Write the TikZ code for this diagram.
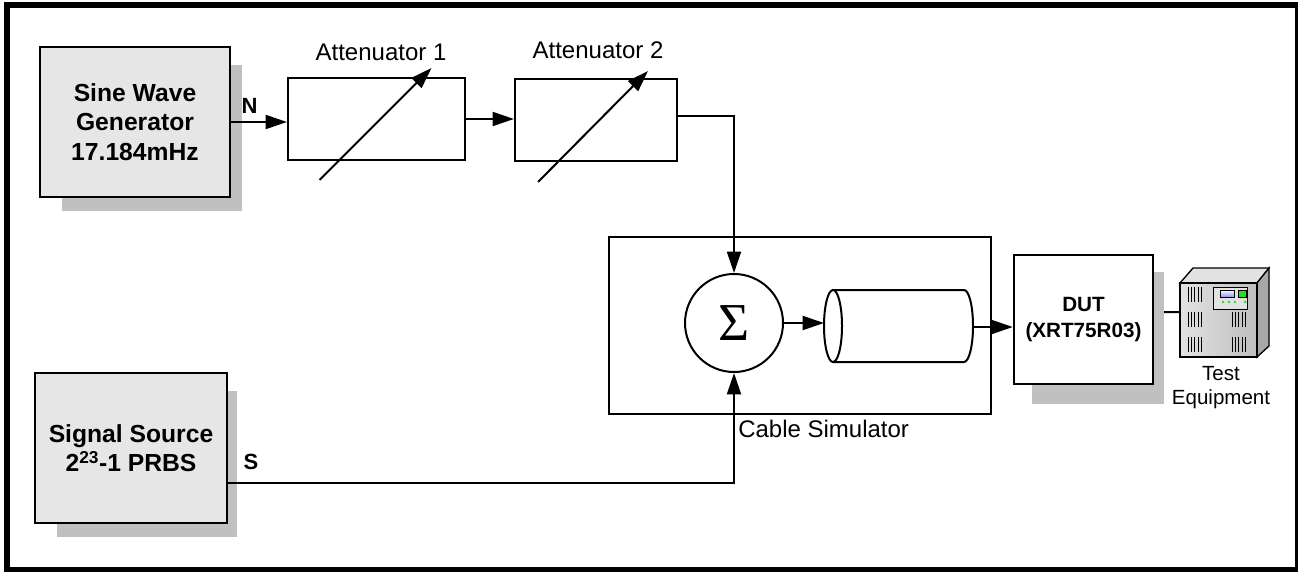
\documentclass[tikz,border=0pt]{standalone}
\usepackage{fontspec}
\setmainfont{Liberation Sans}
\newfontfamily\sigmafont{Liberation Serif}
\usepackage{tikz}
\usetikzlibrary{calc,arrows.meta,backgrounds}
\definecolor{boxgray}{HTML}{E6E6E6}
\definecolor{shadowgray}{HTML}{C0C0C0}
\definecolor{facegray}{HTML}{BEBEBE}
\definecolor{sidegray}{HTML}{A8A8A8}
\definecolor{topgray}{HTML}{E2E2E2}
\definecolor{lcdblue}{HTML}{9090F0}
\definecolor{ledgreen}{HTML}{20E020}
\tikzset{>={Triangle[length=16pt,width=10.5pt]}}
\tikzset{
    wire/.style={line width=1.5pt},
    srcbox/.style={draw, line width=1.8pt, fill=boxgray, align=center,
        font=\fontsize{18.5}{22}\selectfont\bfseries},
    attbox/.style={draw, line width=1.6pt, fill=white,
        minimum width=125pt, minimum height=61.5pt},
    attlabel/.style={font=\fontsize{18}{21.6}\selectfont},
    portlabel/.style={font=\fontsize{16.5}{18}\selectfont\bfseries, inner sep=0pt}
}

\begin{document}
\begin{tikzpicture}[x=0.75pt, y=-0.75pt]
    \useasboundingbox (0,0) rectangle (1298,571);
    % Outer frame
    \draw[line width=4.5pt] (7,4.5) rectangle (1298,570);

    % Sources
    \node[srcbox, minimum width=142.5pt, minimum height=112.5pt] (gen) at (135,122)
        {Sine Wave\\Generator\\17.184mHz};
    \node[srcbox, minimum width=144pt, minimum height=112.5pt] (src) at (131,448)
        {Signal Source\\2\textsuperscript{23}-1 PRBS};

    % Attenuators with variable arrows
    \node[attbox, minimum width=132.75pt] (att1) at (376.5,119) {};
    \node[attbox, minimum width=121.5pt] (att2) at (596,120) {};
    \node[attlabel] at (381,52) {Attenuator 1};
    \node[attlabel] at (598,50) {Attenuator 2};
    \draw[wire, ->] ($(att1.center)+(-57,61)$) -- ($(att1.center)+(55,-51)$);
    \draw[wire, ->] ($(att2.center)+(-58,62)$) -- ($(att2.center)+(52,-49)$);

    % Cable simulator
    \node[draw, line width=0.8pt, minimum width=286.5pt, minimum height=132.75pt] (sim) at (800,325.5) {};
    \node[attlabel, anchor=west, inner sep=0pt] at (738,428.5) {Cable Simulator};
    \node[draw, circle, line width=1.5pt, minimum size=73.5pt, inner sep=0pt,
        font=\sigmafont\fontsize{40}{40}\selectfont] (sum) at (734,323) {Σ};
    % Cable drawn as a cylinder
    \coordinate (cablein) at (824,326);
    \coordinate (cableout) at (973,327);
    \draw[wire] (833,290) -- (964,290)
        arc[start angle=90, end angle=-90, x radius=6.75pt, y radius=27pt] -- (833,362);
    \draw[wire, fill=white] (833,326) ellipse [x radius=6.75pt, y radius=27pt];

    % Device under test
    \node[draw, line width=1.8pt, fill=white, align=center, minimum width=104.25pt,
        minimum height=96.75pt, font=\fontsize{15.5}{20}\selectfont\bfseries] (dut) at (1083.5,319.5)
        {DUT\\(XRT75R03)};

    % Signal path
    \draw[wire, ->] (gen.east) -- (gen.east -| att1.west);
    \draw[wire, ->] (att1.east) -- (att1.east -| att2.west);
    \draw[wire, ->] ([yshift=3pt]att2.east) -| (sum.north);
    \draw[wire, ->] ([yshift=-26pt]src.east) -| (sum.south);
    \draw[wire, ->] (sum.east) -- (sum.east -| cablein);
    \draw[wire, ->] (cableout) -- (cableout -| dut.west);
    \node[portlabel] at (249.5,105.5) {N};
    \node[portlabel] at (251,461.5) {S};

    % Test equipment
    \coordinate (equip) at (1180,312);
    \draw[line width=1pt, fill=topgray] (1180,283) -- (1193,268) -- (1269,268) -- (1257,283) -- cycle;
    \draw[line width=1pt, fill=sidegray] (1257,283) -- (1269,268) -- (1269,346) -- (1257,357) -- cycle;
    \draw[line width=1pt, left color=topgray, right color=facegray] (1180,283) rectangle (1257,357);
    \foreach \r in {287,312,337}
        \foreach \i in {0,...,4}
            \draw[line width=0.7pt] (1188+\i*3.4,\r) -- ++(0,15);
    \foreach \r in {312,337}
        \foreach \i in {0,...,4}
            \draw[line width=0.7pt] (1232+\i*3.4,\r) -- ++(0,15);
    \draw[line width=0.6pt, fill=topgray] (1213,287) rectangle (1247,309);
    \draw[line width=0.6pt, top color=white, bottom color=lcdblue] (1220,290) rectangle (1234,297);
    \draw[line width=0.6pt, fill=ledgreen] (1238,290) rectangle (1246,297);
    \foreach \x in {1223,1229,1235,1245}
        \fill[ledgreen] (\x,302) circle (1.1pt);
    \node[anchor=north, inner sep=0pt, align=center, font=\fontsize{15.4}{18}\selectfont] at (1221,366)
        {Test\\Equipment};

    % Shadows and cabling behind the boxes
    \begin{scope}[on background layer]
        \draw[wire] ([yshift=5.5pt]dut.east) -- (equip);
        \fill[shadowgray] ($(gen.south west)+(23,13)$) rectangle ($(gen.north east)+(11,19)$);
        \fill[shadowgray] ($(src.south west)+(23,13)$) rectangle ($(src.north east)+(9,19)$);
        \fill[shadowgray] ($(dut.south west)+(19,19)$) rectangle ($(dut.north east)+(10,18)$);
    \end{scope}
\end{tikzpicture}
\end{document}
